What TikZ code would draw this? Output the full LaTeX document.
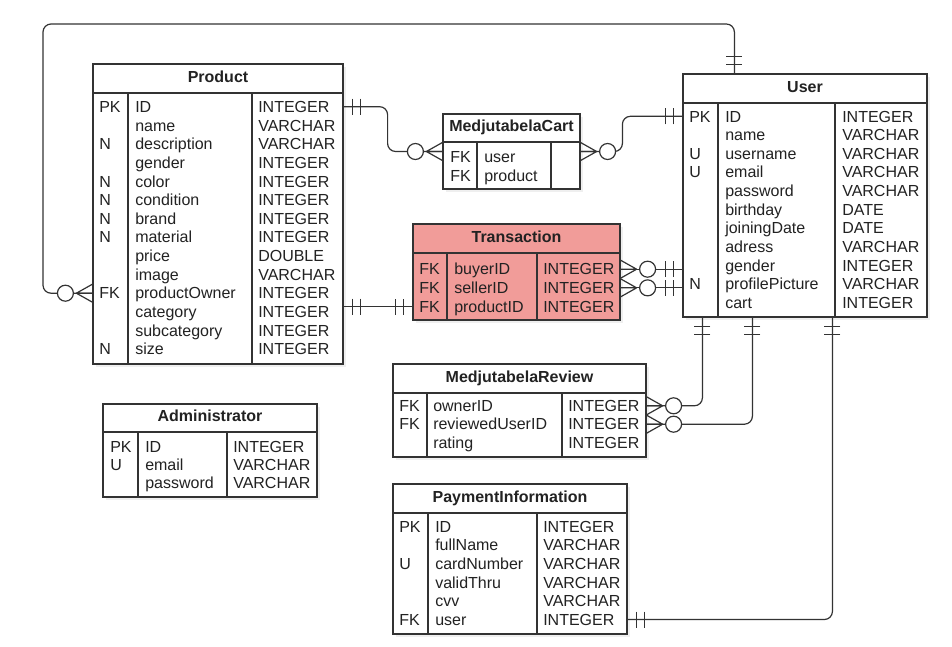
\documentclass[tikz,border=0pt]{standalone}
\usepackage{fontspec}
\setmainfont{Liberation Sans}
\usetikzlibrary{fit,calc,shadows}

\definecolor{linegray}{HTML}{333333}
\definecolor{textgray}{HTML}{222222}
\definecolor{trred}{HTML}{F19C99}

\tikzset{
  tbl/.style={draw=linegray, line width=0.9pt, fill=white, inner sep=0pt,
    drop shadow={shadow xshift=2.5pt, shadow yshift=-2.5pt, opacity=0.12}},
  sep/.style={draw=linegray, line width=0.9pt},
  head/.style={font=\fontsize{12}{14}\selectfont\bfseries, text=textgray, inner sep=0pt, text height=8.6pt, text depth=0pt},
  cell/.style={anchor=west, text=textgray, inner sep=0pt, text height=8.6pt, text depth=0pt},
  rel/.style={draw=linegray, line width=0.9pt, rounded corners=6pt},
  manyzero/.pic={
    \draw[line width=0.9pt, linegray] (16,0) -- (0,-9) (16,0) -- (0,0) (16,0) -- (0,9);
    \draw[line width=0.9pt, linegray, fill=white] (27,0) circle (6pt);
  },
  mandone/.pic={
    \draw[line width=0.9pt, linegray] (9,-8) -- (9,8) (17,-8) -- (17,8);
  },
}

\begin{document}
\begin{tikzpicture}[x=0.75pt, y=-0.75pt, font=\fontsize{12}{14}\selectfont]
\path[fill=white] (0,0) rectangle (952,646);

% Product
\node[tbl, fit={(93,64) (343,364)}] (Product) {};
\draw[sep] (93,93) -- (343,93) (128,93) -- (128,364) (252,93) -- (252,364);
\node[head] at (218,76.5) {Product};
\foreach \k/\n/\t [count=\i] in {PK/ID/INTEGER, /name/VARCHAR, N/description/VARCHAR,
    /gender/INTEGER, N/color/INTEGER, N/condition/INTEGER, N/brand/INTEGER,
    N/material/INTEGER, /price/DOUBLE, /image/VARCHAR, FK/productOwner/INTEGER,
    /category/INTEGER, /subcategory/INTEGER, N/size/INTEGER}{
  \node[cell] at (99,{106.7+18.65*(\i-1)}) {\k};
  \node[cell] (prod-\i) at (135,{106.7+18.65*(\i-1)}) {\n};
  \node[cell] at (258,{106.7+18.65*(\i-1)}) {\t};
}

% User
\node[tbl, fit={(683,74) (927,317)}] (User) {};
\draw[sep] (683,103) -- (927,103) (718,103) -- (718,317) (835,103) -- (835,317);
\node[head] at (805,86.5) {User};
\foreach \k/\n/\t [count=\i] in {PK/ID/INTEGER, /name/VARCHAR, U/username/VARCHAR,
    U/email/VARCHAR, /password/VARCHAR, /birthday/DATE, /joiningDate/DATE,
    /adress/VARCHAR, /gender/INTEGER, N/profilePicture/VARCHAR, /cart/INTEGER}{
  \node[cell] at (689,{116.3+18.65*(\i-1)}) {\k};
  \node[cell] (usr-\i) at (725,{116.3+18.65*(\i-1)}) {\n};
  \node[cell] at (842,{116.3+18.65*(\i-1)}) {\t};
}

% MedjutabelaCart
\node[tbl, fit={(443,114) (580,189)}] (Cart) {};
\draw[sep] (443,142) -- (580,142) (477,142) -- (477,189) (551,142) -- (551,189);
\node[head] at (511.5,126) {MedjutabelaCart};
\foreach \k/\n [count=\i] in {FK/user, FK/product}{
  \node[cell] at (450,{157.2+18.3*(\i-1)}) {\k};
  \node[cell] (cart-\i) at (484,{157.2+18.3*(\i-1)}) {\n};
}

% Transaction
\node[tbl, fill=trred, fit={(413,224) (620,320)}] (Transaction) {};
\draw[sep] (413,253) -- (620,253) (447,253) -- (447,320) (537,253) -- (537,320);
\node[head] at (516.5,236.5) {Transaction};
\foreach \k/\n/\t [count=\i] in {FK/buyerID/INTEGER, FK/sellerID/INTEGER, FK/productID/INTEGER}{
  \node[cell] at (419,{269.2+18.65*(\i-1)}) {\k};
  \node[cell] (tr-\i) at (454,{269.2+18.65*(\i-1)}) {\n};
  \node[cell] at (543,{269.2+18.65*(\i-1)}) {\t};
}

% MedjutabelaReview
\node[tbl, fit={(393,364) (646,457)}] (Review) {};
\draw[sep] (393,393) -- (646,393) (427,393) -- (427,457) (562,393) -- (562,457);
\node[head] at (519.5,376.5) {MedjutabelaReview};
\foreach \k/\n/\t [count=\i] in {FK/ownerID/INTEGER, FK/reviewedUserID/INTEGER, /rating/INTEGER}{
  \node[cell] at (399,{405.8+18.4*(\i-1)}) {\k};
  \node[cell] (rev-\i) at (433,{405.8+18.4*(\i-1)}) {\n};
  \node[cell] at (568,{405.8+18.4*(\i-1)}) {\t};
}

% PaymentInformation
\node[tbl, fit={(393,484) (627,634)}] (Payment) {};
\draw[sep] (393,513) -- (627,513) (428,513) -- (428,634) (537,513) -- (537,634);
\node[head] at (510,496.5) {PaymentInformation};
\foreach \k/\n/\t [count=\i] in {PK/ID/INTEGER, /fullName/VARCHAR, U/cardNumber/VARCHAR,
    /validThru/VARCHAR, /cvv/VARCHAR, FK/user/INTEGER}{
  \node[cell] at (399,{526.5+18.6*(\i-1)}) {\k};
  \node[cell] (pay-\i) at (435,{526.5+18.6*(\i-1)}) {\n};
  \node[cell] at (543,{526.5+18.6*(\i-1)}) {\t};
}

% Administrator
\node[tbl, fit={(103,404) (317,497)}] (Admin) {};
\draw[sep] (103,432) -- (317,432) (138,432) -- (138,497) (227,432) -- (227,497);
\node[head] at (210,416) {Administrator};
\foreach \k/\n/\t [count=\i] in {PK/ID/INTEGER, U/email/VARCHAR, /password/VARCHAR}{
  \node[cell] at (110,{446.8+18*(\i-1)}) {\k};
  \node[cell] (adm-\i) at (145,{446.8+18*(\i-1)}) {\n};
  \node[cell] at (233,{446.8+18*(\i-1)}) {\t};
}

% relations
\draw[rel] (prod-11 -| Product.west) -| (43,24) -| ($(User.north west)+(52,0)$);
\draw[rel] (prod-1 -| Product.east) -- ++(44,0) |- (Cart.west);
\draw[rel] (usr-1 -| User.west) -- ++(-60,0) |- (Cart.east);
\draw[rel] (tr-1 -| Transaction.east) -- (tr-1 -| User.west);
\draw[rel] (tr-2 -| Transaction.east) -- (tr-2 -| User.west);
\draw[rel] (tr-3 -| Transaction.west) -- (tr-3 -| Product.east);
\draw[rel] (rev-1 -| Review.east) -| ($(User.south west)+(20,0)$);
\draw[rel] (rev-2 -| Review.east) -| ($(User.south west)+(70,0)$);
\draw[rel] (pay-6 -| Payment.east) -| ($(User.south west)+(150,0)$);

% ends
\pic[rotate=180] at (prod-11 -| Product.west) {manyzero};
\pic[rotate=90] at ($(User.north west)+(52,0)$) {mandone};
\pic at (prod-1 -| Product.east) {mandone};
\pic[rotate=180] at (Cart.west) {manyzero};
\pic at (Cart.east) {manyzero};
\pic[rotate=180] at (usr-1 -| User.west) {mandone};
\foreach \i in {1,2}{
  \pic at (tr-\i -| Transaction.east) {manyzero};
  \pic[rotate=180] at (tr-\i -| User.west) {mandone};
}
\pic[rotate=180] at (tr-3 -| Transaction.west) {mandone};
\pic at (tr-3 -| Product.east) {mandone};
\foreach \i in {1,2}
  \pic at (rev-\i -| Review.east) {manyzero};
\foreach \s in {20,70,150}
  \pic[rotate=-90] at ($(User.south west)+(\s,0)$) {mandone};
\pic at (pay-6 -| Payment.east) {mandone};

\end{tikzpicture}
\end{document}
